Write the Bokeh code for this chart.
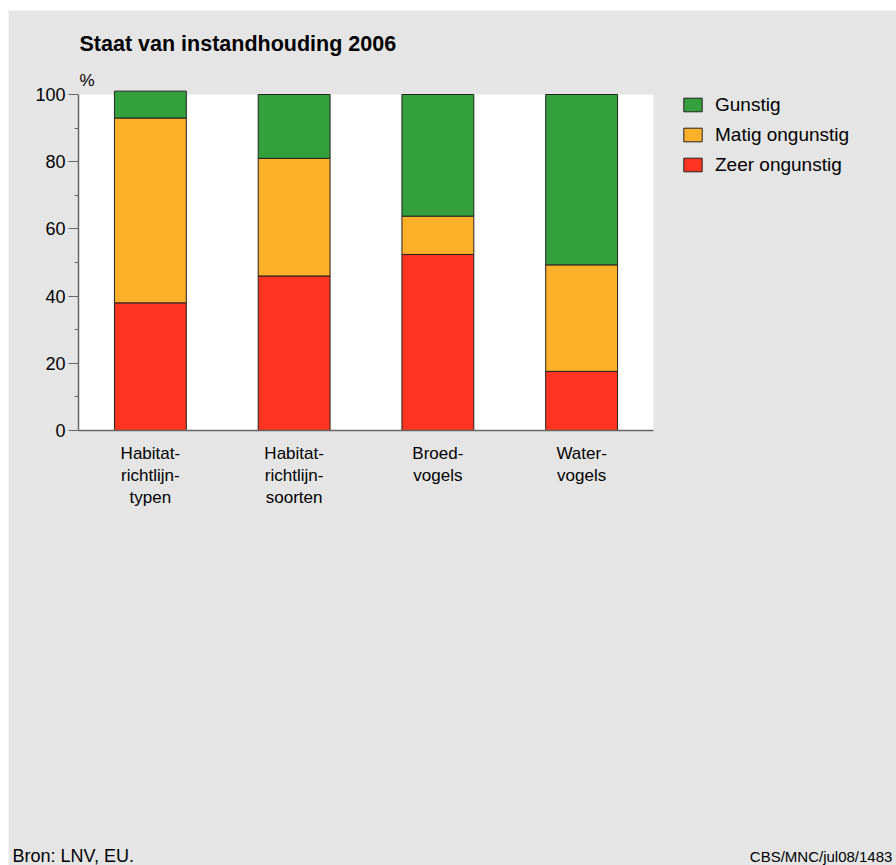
from bokeh.plotting import figure
from bokeh.models import (Range1d, FixedTicker, BoxAnnotation, Label, Legend,
                          LegendItem, Spacer, ColumnDataSource)
from bokeh.layouts import column, row
from bokeh.embed import file_html
from bokeh.resources import INLINE

# ---- data ----
categories = ["Habitat-\nrichtlijn-\ntypen", "Habitat-\nrichtlijn-\nsoorten",
              "Broed-\nvogels", "Water-\nvogels"]
zeer_ongunstig = [38, 46, 52.4, 17.6]
matig_ongunstig = [55, 35, 11.4, 31.7]
gunstig = [8, 19, 36.2, 50.7]
series_names = ["Zeer ongunstig", "Matig ongunstig", "Gunstig"]
colors = ["#FE3420", "#FDB12A", "#34A03D"]
y_ticks = [0, 20, 40, 60, 80, 100]
y_minor_ticks = [10, 30, 50, 70, 90]

title_text = "Staat van instandhouding 2006"
unit_text = "%"
source_text = "Bron: LNV, EU."
code_text = "CBS/MNC/jul08/1483"

GRAY = "#E5E5E5"
FONT = "Liberation Sans"

# category positions on the x scale (one unit per category)
x_pos = [i + 0.5 for i in range(len(categories))]
src = ColumnDataSource(dict(x=x_pos, zeer=zeer_ongunstig,
                            matig=matig_ongunstig, gun=gunstig))

# page geometry: figure placed at page (8, 10), size 888 x 855, frame = whole canvas
OX, OY = 8, 10
W, H = 888, 855
X0_PAGE, X_UNIT = 78, 143.75      # page x of category axis start, px per category
Y0_PAGE, Y_UNIT = 430, 3.36       # page y of value 0, px per percent


def xd(px):
    return (px - X0_PAGE) / X_UNIT


def yd(py):
    return (Y0_PAGE - py) / Y_UNIT


p = figure(width=W, height=H, output_backend="svg", toolbar_location=None,
           x_range=Range1d(xd(OX), xd(OX + W)),
           y_range=Range1d(yd(OY + H), yd(OY)),
           min_border=0, min_border_left=0, min_border_right=0,
           min_border_top=0, min_border_bottom=0)
p.title = None
p.background_fill_color = GRAY
p.border_fill_color = GRAY
p.outline_line_color = None
p.xgrid.grid_line_color = None
p.ygrid.grid_line_color = None

p.add_layout(BoxAnnotation(left=0, right=len(categories), bottom=0, top=100,
                           fill_color="white", fill_alpha=1,
                           line_color=None, level="underlay"))

rs = p.vbar_stack(["zeer", "matig", "gun"], x="x", width=0.5, source=src,
                  fill_color=colors, line_color="#222222", line_width=1)

# axes (fixed in the frame)
ya = p.yaxis[0]
ya.fixed_location = 0
ya.ticker = FixedTicker(ticks=y_ticks, minor_ticks=y_minor_ticks)
ya.bounds = (0, 100)
ya.axis_line_color = "#666666"
ya.axis_line_width = 1.5
ya.major_tick_line_color = "#666666"
ya.minor_tick_line_color = "#666666"
ya.major_tick_out = 10
ya.major_tick_in = 0
ya.minor_tick_out = 4
ya.minor_tick_in = 0
ya.major_label_standoff = 3
ya.major_label_text_font = FONT
ya.major_label_text_font_size = "18px"
ya.major_label_text_color = "black"

xa = p.xaxis[0]
xa.fixed_location = 0
xa.ticker = FixedTicker(ticks=x_pos)
xa.major_label_overrides = {x: c for x, c in zip(x_pos, categories)}
xa.bounds = (0, len(categories))
xa.axis_line_color = "#666666"
xa.axis_line_width = 1.5
xa.major_tick_line_color = None
xa.minor_tick_line_color = None
xa.major_tick_out = 0
xa.major_tick_in = 0
xa.major_label_standoff = 13
xa.major_label_text_font = FONT
xa.major_label_text_font_size = "17px"
xa.major_label_text_color = "black"
xa.major_label_text_line_height = 1.16

# texts (y values compensate for the renderer's baseline placement)
p.add_layout(Label(x=xd(79), y=yd(43), text=title_text, text_font=FONT,
                   text_font_size="21.5px", text_font_style="bold",
                   text_baseline="alphabetic", text_color="black"))
p.add_layout(Label(x=xd(79), y=yd(79.5), text=unit_text, text_font=FONT,
                   text_font_size="17px", text_baseline="alphabetic",
                   text_color="black"))
p.add_layout(Label(x=xd(12), y=yd(855.5), text=source_text, text_font=FONT,
                   text_font_size="18px", text_baseline="alphabetic",
                   text_color="black"))
p.add_layout(Label(x=xd(749.3), y=yd(855.5), text=code_text, text_font=FONT,
                   text_font_size="15px", text_baseline="alphabetic",
                   text_color="black"))

items = [LegendItem(label=series_names[i], renderers=[rs[i]]) for i in (2, 1, 0)]
legend = Legend(items=items, location=(681 - OX, OY + H - 175.5),
                orientation="vertical",
                glyph_width=23, glyph_height=17, label_height=20,
                label_standoff=11, spacing=8, padding=0, margin=0,
                border_line_color=None, background_fill_alpha=0,
                label_text_font=FONT, label_text_font_size="19px",
                label_text_color="black")
p.add_layout(legend, "center")

layout = column(Spacer(height=OY), row(Spacer(width=OX), p))

open("out.html", "w").write(file_html(layout, INLINE))
